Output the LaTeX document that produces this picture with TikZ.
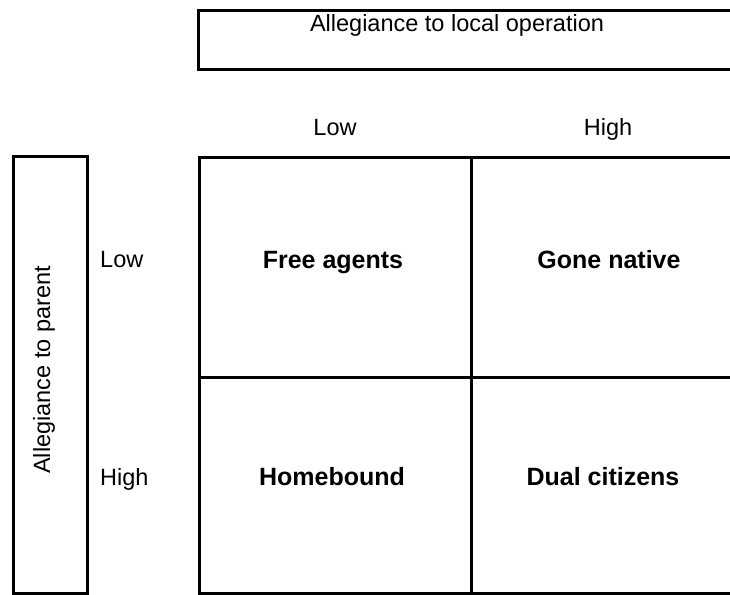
\documentclass[tikz,border=0pt]{standalone}
\usepackage{fontspec}
\setmainfont{Liberation Sans}
\begin{document}
\begin{tikzpicture}[x=1pt,y=-1pt,
  frame/.style={draw=black,line width=2.8pt,inner sep=0pt,anchor=north west},
  lbl/.style={font=\fontsize{23.5}{27}\selectfont,inner sep=0pt,anchor=base},
  cell/.style={font=\fontsize{25}{29}\selectfont\bfseries,inner sep=0pt,anchor=base}]
\useasboundingbox (0,0) rectangle (730,594);
\clip (0,0) rectangle (730,594);
% top header box
\node[frame,minimum width=560pt,minimum height=59pt] (top) at (197,9) {};
\node[lbl] (toptxt) at (457,32) {Allegiance to local operation};
% left header box
\node[frame,minimum width=74pt,minimum height=437pt] (left) at (12,155) {};
\node[lbl,rotate=90,anchor=center] (lefttxt) at (44,370) {Allegiance to parent};
% column labels
\node[lbl] (clow) at (335,135) {Low};
\node[lbl] (chigh) at (608,135) {High};
% row labels
\node[lbl,anchor=base west] (rlow) at (100,267) {Low};
\node[lbl,anchor=base west] (rhigh) at (100,485) {High};
% grid cells
\node[frame,minimum width=272pt,minimum height=220pt] (c11) at (198,156) {};
\node[frame,minimum width=280pt,minimum height=220pt] (c12) at (470,156) {};
\node[frame,minimum width=272pt,minimum height=216pt] (c21) at (198,376) {};
\node[frame,minimum width=280pt,minimum height=216pt] (c22) at (470,376) {};
% cell texts
\node[cell] (t11) at (333,268) {Free agents};
\node[cell] (t12) at (609,268) {Gone native};
\node[cell] (t21) at (332,485) {Homebound};
\node[cell] (t22) at (603,485) {Dual citizens};
\end{tikzpicture}
\end{document}
